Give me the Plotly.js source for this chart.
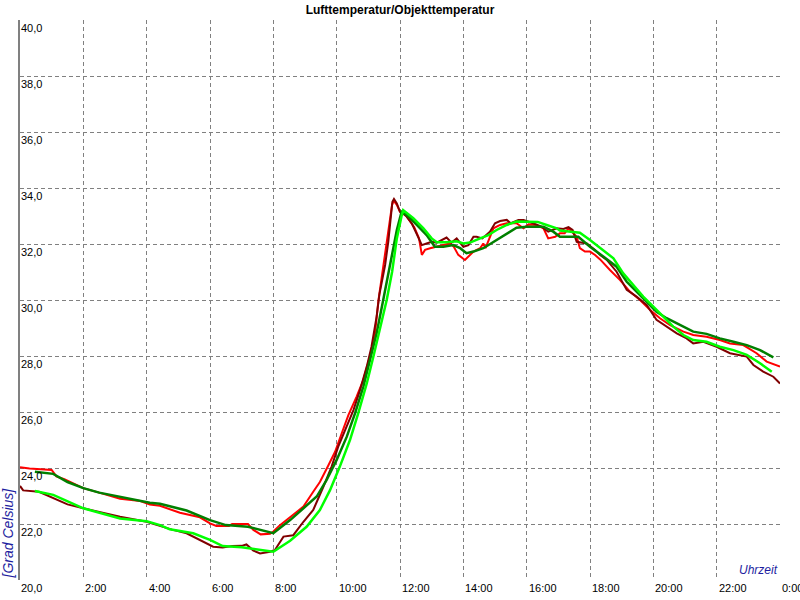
<!DOCTYPE html>
<html>
<head>
<meta charset="utf-8">
<script src="https://cdn.plot.ly/plotly-3.0.1.min.js"></script>
<style>html,body{margin:0;padding:0;background:#fff;}#chart{width:800px;height:600px;}</style>
</head>
<body>
<div id="chart"></div>
<script>
// ---- data (hours since midnight, temperature °C) ----
const redH = [0,0.3,1.0,1.15,1.4,2.0,2.5,3.16,3.8,4.1,4.42,5.05,5.68,6.0,6.2,6.6,6.7,7.2,7.37,7.6,7.9,8.0,8.2,8.53,8.95,9.26,9.47,9.74,9.95,10.16,10.37,10.63,10.84,11.05,11.21,11.32,11.45,11.55,11.65,11.75,11.8,11.9,12.0,12.2,12.45,12.6,12.69,12.79,12.95,13.16,13.37,13.58,13.7,13.84,14.05,14.16,14.32,14.53,14.63,14.7,14.84,14.95,15.16,15.37,15.68,15.9,16.06,16.3,16.53,16.68,16.9,17.05,17.2,17.32,17.58,17.68,17.84,18.0,18.16,18.32,18.63,18.95,19.26,19.58,19.9,20.21,20.53,20.95,21.26,21.68,22.1,22.42,22.84,23.26,23.58,24.0];
const redT = [24.03,23.98,23.93,23.7,23.6,23.28,23.12,22.9,22.82,22.7,22.65,22.4,22.24,22.02,21.93,21.93,22.0,22.0,21.79,21.63,21.65,21.73,21.95,22.26,22.62,23.15,23.5,24.1,24.58,25.24,25.89,26.55,27.14,27.98,28.8,30.0,31.0,31.9,32.7,33.4,33.55,33.4,33.15,33.0,32.6,32.2,31.61,31.79,31.85,31.9,31.96,32.02,31.9,31.61,31.43,31.55,31.73,31.85,32.02,31.85,32.26,32.56,32.68,32.74,32.74,32.56,32.7,32.68,32.56,32.2,32.26,32.38,32.38,32.56,32.26,31.85,31.73,31.73,31.61,31.45,31.07,30.71,30.3,30.0,29.64,29.35,29.1,28.87,28.75,28.69,28.57,28.45,28.39,28.1,27.8,27.62];

const darkRedH = [0,0.1,0.6,1.05,1.5,2.0,2.5,3.16,4.0,4.42,4.8,5.26,5.68,6.1,6.4,6.7,7.0,7.15,7.37,7.58,7.9,8.05,8.32,8.63,8.95,9.26,9.58,9.84,10.05,10.26,10.53,10.74,10.95,11.1,11.26,11.35,11.53,11.63,11.7,11.76,11.81,11.9,12.0,12.1,12.21,12.37,12.47,12.58,12.69,12.84,13.0,13.16,13.32,13.47,13.63,13.79,14.0,14.16,14.32,14.42,14.6,14.84,15.0,15.16,15.37,15.5,15.74,15.9,16.2,16.47,16.68,16.95,17.16,17.32,17.45,17.58,17.9,18.16,18.32,18.53,18.84,19.16,19.47,19.79,20.1,20.42,20.74,21.05,21.26,21.58,22.0,22.42,22.95,23.16,23.47,23.79,24.0];
const darkRedT = [23.36,23.2,23.15,22.92,22.7,22.56,22.42,22.26,22.08,21.93,21.8,21.67,21.43,21.19,21.16,21.21,21.22,21.27,21.05,20.95,21.01,21.07,21.55,21.6,22.08,22.5,23.33,24.05,24.76,25.36,26.07,26.79,27.62,28.33,29.4,30.2,31.25,32.08,32.92,33.51,33.61,33.45,33.15,33.1,32.98,32.74,32.5,32.2,31.96,32.02,32.08,32.05,32.14,32.23,32.05,32.2,31.9,31.96,32.26,32.26,32.2,32.44,32.74,32.82,32.86,32.74,32.86,32.86,32.74,32.62,32.44,32.56,32.54,32.6,32.5,32.08,32.02,31.79,31.61,31.43,31.01,30.36,30.12,29.82,29.29,29.05,28.81,28.63,28.45,28.51,28.33,28.1,27.98,27.68,27.44,27.26,27.02];

const darkGreenH = [0.47,1.05,1.5,2.0,2.5,3.16,3.8,4.1,4.42,5.26,6.0,6.5,7.2,7.6,8.0,8.53,8.95,9.37,9.68,10.0,10.32,10.58,10.84,11.05,11.26,11.47,11.7,11.9,12.05,12.25,12.53,12.84,13.1,13.37,13.68,13.9,14.1,14.32,14.63,15.05,15.37,15.68,16.0,16.53,16.84,17.05,17.63,18.0,18.42,18.84,19.16,19.47,19.79,20.1,20.42,20.84,21.26,21.68,22.1,22.53,22.95,23.37,23.79];
const darkGreenT = [23.87,23.79,23.5,23.28,23.12,22.98,22.82,22.76,22.72,22.48,22.14,21.96,21.9,21.78,21.67,22.14,22.56,22.98,23.57,24.29,25.12,25.95,26.9,27.86,28.8,30.0,31.4,32.5,33.15,33.0,32.68,32.32,31.9,31.9,31.96,31.85,31.67,31.73,31.85,32.14,32.38,32.58,32.62,32.62,32.44,32.26,32.26,31.9,31.55,31.19,30.65,30.3,29.94,29.58,29.35,29.1,28.87,28.79,28.63,28.51,28.39,28.21,27.95];

const greenH = [0.47,1.05,2.0,3.16,4.0,4.42,4.73,5.47,6.0,6.4,7.0,7.6,8.0,8.53,9.05,9.47,9.79,10.1,10.42,10.68,10.95,11.16,11.37,11.58,11.75,11.9,12.05,12.1,12.42,12.74,13.0,13.16,13.47,13.79,14.0,14.21,14.53,14.79,15.05,15.37,15.68,16.0,16.35,16.63,16.95,17.05,17.68,18.0,18.32,18.74,19.05,19.37,19.68,20.0,20.32,20.63,20.95,21.26,21.68,22.1,22.53,22.95,23.37,23.74];
const greenT = [23.18,23.04,22.56,22.2,22.1,21.96,21.81,21.67,21.43,21.21,21.17,21.07,21.01,21.4,21.9,22.5,23.21,24.05,25.0,25.95,27.02,27.98,29.05,30.0,31.0,32.2,33.0,33.21,32.92,32.56,32.2,32.06,32.06,32.1,32.02,32.05,32.2,32.32,32.5,32.68,32.8,32.8,32.79,32.68,32.56,32.48,32.4,32.14,31.85,31.49,30.95,30.54,30.12,29.76,29.4,29.05,28.75,28.57,28.51,28.33,28.21,28.04,27.74,27.44];

const xTickVals = [2,4,6,8,10,12,14,16,18,20,22,24];
const xTickText = ["2:00","4:00","6:00","8:00","10:00","12:00","14:00","16:00","18:00","20:00","22:00","0:00"];
const yTickVals = [20,22,24,26,28,30,32,34,36,38,40];
const yTickText = ["20,0","22,0","24,0","26,0","28,0","30,0","32,0","34,0","36,0","38,0","40,0"];

const titleText = "Lufttemperatur/Objekttemperatur";
const xTitle = "Uhrzeit";
const yTitle = "[Grad Celsius]";

// ---- traces ----
const traces = [
  {x: redH, y: redT, mode: 'lines', line: {color: '#FF0000', width: 2}},
  {x: darkRedH, y: darkRedT, mode: 'lines', line: {color: '#800000', width: 2}},
  {x: darkGreenH, y: darkGreenT, mode: 'lines', line: {color: '#008000', width: 2.5}},
  {x: greenH, y: greenT, mode: 'lines', line: {color: '#00FF00', width: 2.5}}
];

const tickFont = {family: 'Liberation Sans, Arial, sans-serif', size: 11, color: '#000000'};
const blue = '#1E1EA0';
const annotations = [];
yTickVals.forEach((v, i) => annotations.push({
  x: 0, xref: 'paper', y: v, yref: 'y', text: yTickText[i], showarrow: false,
  xanchor: 'left', yanchor: 'top', xshift: 0, yshift: -1, font: tickFont, borderpad: 0
}));
xTickVals.forEach((v, i) => annotations.push({
  x: v, xref: 'x', y: 0, yref: 'paper', text: xTickText[i], showarrow: false,
  xanchor: 'left', yanchor: 'top', xshift: 1, yshift: -1, font: tickFont, borderpad: 0
}));
annotations.push({
  x: 1, xref: 'paper', y: 0, yref: 'paper', text: '<i>' + xTitle + '</i>', showarrow: false,
  xanchor: 'right', yanchor: 'bottom', yshift: 2, xshift: -1, borderpad: 0,
  font: {family: 'Liberation Sans, Arial, sans-serif', size: 12, color: blue}
});
annotations.push({
  x: -13/760, xref: 'paper', y: 46.5/560, yref: 'paper', text: '<i>' + yTitle + '</i>', showarrow: false,
  textangle: -90, xanchor: 'center', yanchor: 'middle', borderpad: 0,
  font: {family: 'Liberation Sans, Arial, sans-serif', size: 14, color: blue}
});

const layout = {
  width: 800, height: 600,
  margin: {l: 20, r: 20, t: 20, b: 20, pad: 0},
  paper_bgcolor: '#FFFFFF', plot_bgcolor: '#FFFFFF',
  showlegend: false,
  title: {text: '<b>' + titleText + '</b>', x: 0.5, xref: 'container', xanchor: 'center',
          y: 1 - 10/600, yref: 'container', yanchor: 'middle',
          font: {family: 'Liberation Sans, Arial, sans-serif', size: 12, color: '#000000'}},
  xaxis: {range: [0, 24], tickvals: [0].concat(xTickVals), showticklabels: false, ticks: '',
          showgrid: true, gridcolor: '#808080', gridwidth: 1, griddash: '4px,3px',
          zeroline: false, showline: false, fixedrange: true},
  yaxis: {range: [20, 40], tickvals: yTickVals, showticklabels: false, ticks: '',
          showgrid: true, gridcolor: '#808080', gridwidth: 1, griddash: '4px,3px',
          zeroline: false, showline: true, linecolor: '#808080', linewidth: 2, fixedrange: true},
  annotations: annotations
};

Plotly.newPlot('chart', traces, layout, {displayModeBar: false, staticPlot: true});
</script>
</body>
</html>
